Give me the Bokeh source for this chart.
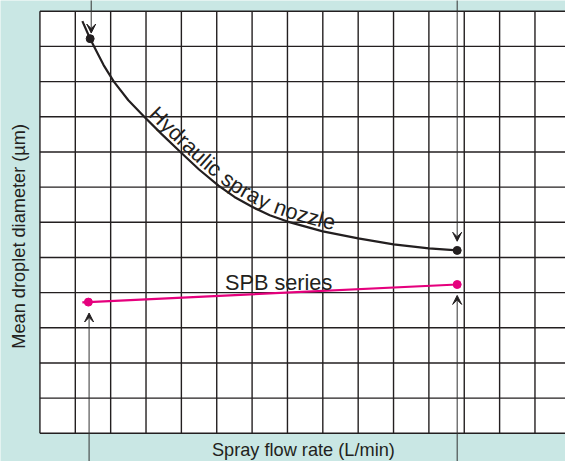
import numpy as np
from bokeh.plotting import figure
from bokeh.models import Range1d, Label, Arrow, VeeHead
from bokeh.core.properties import value
from bokeh.embed import file_html
from bokeh.resources import INLINE

# ---------------- data (grid units) ----------------
hyd_flow = [1.20, 1.42, 1.53, 1.80, 2.09, 2.50, 2.95, 3.45, 3.95, 4.50, 5.05, 5.50, 6.00,
            6.50, 7.00, 8.00, 9.00, 10.00, 11.00, 11.80]
hyd_diam = [11.72, 11.22, 11.00, 10.47, 10.00, 9.47, 9.00, 8.50, 8.02, 7.50, 7.04, 6.72, 6.44,
            6.20, 6.02, 5.74, 5.54, 5.37, 5.26, 5.20]
hyd_mark_flow = [1.42, 11.80]
hyd_mark_diam = [11.22, 5.20]

spb_flow = [1.20, 1.37, 11.80]
spb_diam = [3.72, 3.73, 4.23]
spb_mark_flow = [1.37, 11.80]
spb_mark_diam = [3.73, 4.23]

# arrows pointing at the end points
top_arrow_x = [1.45, 11.80]
top_arrow_tip = [11.38, 5.46]
bot_arrow_x = [1.39, 11.80]
bot_arrow_tip = [3.42, 3.92]

N_COLS = 15
N_ROWS = 12

x_label = "Spray flow rate (L/min)"
y_label = "Mean droplet diameter (\u00b5m)"
hyd_label = "Hydraulic spray nozzle"
spb_label = "SPB series"

# ---------------- style ----------------
TEAL = "#c9e7e4"
INK = "#231f20"
PINK = "#e5007d"
FONT = "Liberation Sans"
W, H = 565, 461
X0, X1 = -1.1154, 14.8634
Y0, Y1 = -0.8021, 12.3058
SX = W / (X1 - X0)   # px per grid unit
SY = H / (Y1 - Y0)

p = figure(width=W, height=H, output_backend="svg", toolbar_location=None,
           x_axis_location=None, y_axis_location=None, min_border=0,
           x_range=Range1d(X0, X1), y_range=Range1d(Y0, Y1))
p.grid.visible = False
p.outline_line_color = None
p.background_fill_color = TEAL
p.border_fill_color = TEAL

# white chart area + grid
p.quad(left=[0], right=[N_COLS], bottom=[0], top=[N_ROWS], fill_color="white", line_color=None)
cols = np.arange(0, N_COLS)
rows = np.arange(0, N_ROWS + 1)
p.segment(x0=cols, y0=np.zeros_like(cols), x1=cols, y1=np.full_like(cols, N_ROWS),
          line_color=INK, line_width=1.4)
p.segment(x0=np.zeros_like(rows), y0=rows, x1=np.full_like(rows, N_COLS), y1=rows,
          line_color=INK, line_width=1.4)

# series
p.line(hyd_flow, hyd_diam, line_color=INK, line_width=2.2)
p.scatter(hyd_mark_flow, hyd_mark_diam, size=8, fill_color=INK, line_color=INK)
p.line(spb_flow, spb_diam, line_color=PINK, line_width=2.2)
p.scatter(spb_mark_flow, spb_mark_diam, size=8, fill_color=PINK, line_color=PINK)

# arrows
for xa, tip in zip(top_arrow_x, top_arrow_tip):
    p.add_layout(Arrow(end=VeeHead(size=9, fill_color=INK, line_color=INK, line_width=1),
                       x_start=xa, y_start=12.6, x_end=xa, y_end=tip,
                       line_color="#333333", line_width=1))
for xa, tip in zip(bot_arrow_x, bot_arrow_tip):
    p.add_layout(Arrow(end=VeeHead(size=9, fill_color=INK, line_color=INK, line_width=1),
                       x_start=xa, y_start=-1.1, x_end=xa, y_end=tip,
                       line_color="#333333", line_width=1))

# ---------------- label that follows the hydraulic curve ----------------
CH_W = {'H': 0.722, 'y': 0.5, 'd': 0.556, 'r': 0.333, 'a': 0.556, 'u': 0.556, 'l': 0.222,
        'i': 0.222, 'c': 0.5, ' ': 0.278, 's': 0.5, 'p': 0.556, 'n': 0.556, 'o': 0.556,
        'z': 0.5, 'e': 0.556}
FS = 21.7
OFFSET = 11.0          # curve centre -> middle of the letters, px
TEXT_START_X = 2.98    # where the first letter begins (along the curve)

# path of the curve in pixel space (layout helper only)
bx = np.array(hyd_flow) * SX
by = np.array(hyd_diam) * SY
seg = np.hypot(np.diff(bx), np.diff(by))
cum = np.concatenate([[0], np.cumsum(seg)])
ss = np.linspace(0, cum[-1], 1500)
dx_ = np.interp(ss, cum, bx)
dy_ = np.interp(ss, cum, by)


def smooth_angle(k, half=10):
    a, b = max(k - half, 0), min(k + half, len(ss) - 1)
    return np.arctan2(dy_[b] - dy_[a], dx_[b] - dx_[a])


ang_base = np.array([smooth_angle(k, 25) for k in range(len(ss))])
ox = dx_ - OFFSET * np.sin(ang_base)
oy = dy_ + OFFSET * np.cos(ang_base)
ocum = np.concatenate([[0], np.cumsum(np.hypot(np.diff(ox), np.diff(oy)))])

k0 = int(np.argmin(np.abs(dx_ - TEXT_START_X * SX)))
pos = ocum[k0]
cx, cy, ca, ct = [], [], [], []
for ch in hyd_label:
    w = CH_W.get(ch, 0.5) * FS
    sc = pos + w / 2
    k = int(np.argmin(np.abs(ocum - sc)))
    ka, kb = int(np.argmin(np.abs(ocum - (sc - 7)))), int(np.argmin(np.abs(ocum - (sc + 7))))
    ang = np.arctan2(oy[kb] - oy[ka], ox[kb] - ox[ka])
    cx.append(ox[k] / SX)
    cy.append(oy[k] / SY)
    ca.append(ang)
    ct.append(ch)
    pos += w

p.text(x=cx, y=cy, text=ct, angle=ca, text_font=value(FONT), text_font_size=value(f"{FS}px"),
       text_align="center", text_baseline="middle", text_color=INK)

p.add_layout(Label(x=6.75, y=4.28, text=spb_label, text_font=FONT, text_font_size="21.7px",
                   text_align="center", text_baseline="middle", text_color=INK))
p.add_layout(Label(x=7.45, y=-0.47, text=x_label, text_font=FONT, text_font_size="18.2px",
                   text_align="center", text_baseline="middle", text_color=INK))
p.add_layout(Label(x=-0.605, y=5.60, text=y_label, text_font=FONT, text_font_size="18.2px",
                   angle=np.pi / 2, text_align="center", text_baseline="middle",
                   text_color=INK))

open("out.html", "w").write(file_html(p, INLINE))
